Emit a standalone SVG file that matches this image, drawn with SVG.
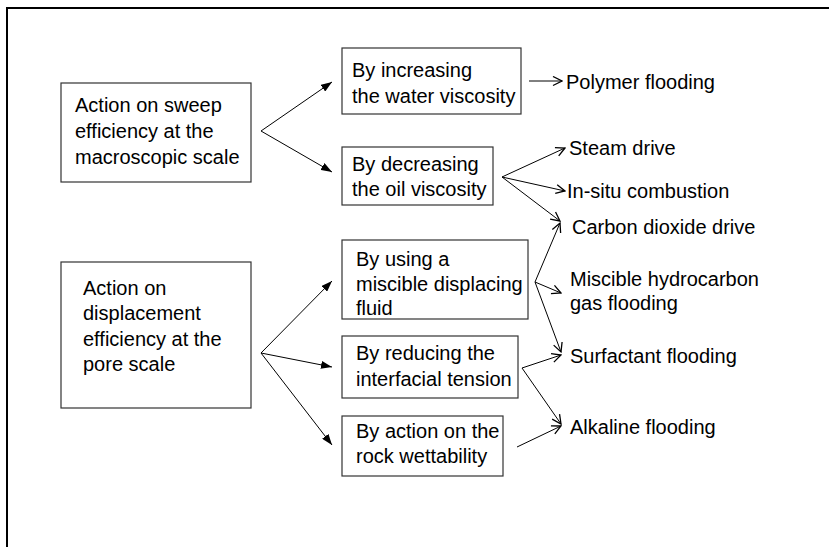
<svg xmlns="http://www.w3.org/2000/svg" width="829" height="547" viewBox="0 0 829 547">
<style>
.frame{fill:none;stroke:#000;stroke-width:2}
.box{fill:#fff;stroke:#333;stroke-width:1.2}
.t{font-family:"Liberation Sans",Arial,sans-serif;font-size:20px;fill:#000}
.c{fill:none;stroke:#000;stroke-width:1}
</style>
<defs>
<marker id="solid" markerUnits="userSpaceOnUse" viewBox="0 0 11 8" refX="11" refY="4" markerWidth="11" markerHeight="8" orient="auto">
<path d="M0,0 L11,4 L0,8 z" fill="#000"/>
</marker>
<marker id="open" markerUnits="userSpaceOnUse" viewBox="-1 -1 11 11" refX="9" refY="4.5" markerWidth="11" markerHeight="11" orient="auto">
<path d="M0,0 L9,4.5 L0,9" fill="none" stroke="#000" stroke-width="1.3"/>
</marker>
</defs>
<rect class="frame" x="7" y="8" width="900" height="600"/>

<g id="connectors">
<line class="c" x1="261" y1="131" x2="332" y2="82" marker-end="url(#solid)"/>
<line class="c" x1="261" y1="131" x2="332" y2="172" marker-end="url(#solid)"/>
<line class="c" x1="261" y1="353" x2="332" y2="281" marker-end="url(#solid)"/>
<line class="c" x1="261" y1="353" x2="332" y2="367" marker-end="url(#solid)"/>
<line class="c" x1="261" y1="353" x2="332" y2="445" marker-end="url(#solid)"/>
<line class="c" x1="529" y1="81" x2="562" y2="81" marker-end="url(#open)"/>
<line class="c" x1="502" y1="177" x2="565" y2="148" marker-end="url(#open)"/>
<line class="c" x1="502" y1="177" x2="565" y2="191" marker-end="url(#open)"/>
<line class="c" x1="502" y1="177" x2="560" y2="221" marker-end="url(#open)"/>
<line class="c" x1="535" y1="282" x2="560" y2="223" marker-end="url(#open)"/>
<line class="c" x1="535" y1="282" x2="561" y2="293" marker-end="url(#open)"/>
<line class="c" x1="535" y1="282" x2="561" y2="352" marker-end="url(#open)"/>
<line class="c" x1="522" y1="368" x2="561" y2="355" marker-end="url(#open)"/>
<line class="c" x1="522" y1="368" x2="561" y2="424" marker-end="url(#open)"/>
<line class="c" x1="517" y1="447" x2="561" y2="426" marker-end="url(#open)"/>
</g>

<g id="sweep">
<rect class="box" x="61" y="83" width="190" height="99"/>
<text class="t" x="75" y="112">Action on sweep</text>
<text class="t" x="75" y="138">efficiency at the</text>
<text class="t" x="75" y="164">macroscopic scale</text>
</g>
<g id="displacement">
<rect class="box" x="61" y="262" width="190" height="146"/>
<text class="t" x="83" y="295">Action on</text>
<text class="t" x="83" y="320">displacement</text>
<text class="t" x="83" y="346">efficiency at the</text>
<text class="t" x="83" y="371">pore scale</text>
</g>
<g id="water">
<rect class="box" x="342" y="48" width="179" height="66"/>
<text class="t" x="352" y="77">By increasing</text>
<text class="t" x="352" y="103">the water viscosity</text>
</g>
<g id="oil">
<rect class="box" x="342" y="147" width="151" height="58"/>
<text class="t" x="352" y="171">By decreasing</text>
<text class="t" x="352" y="196">the oil viscosity</text>
</g>
<g id="miscible">
<rect class="box" x="342" y="240" width="186" height="79"/>
<text class="t" x="356" y="266">By using a</text>
<text class="t" x="356" y="291">miscible displacing</text>
<text class="t" x="356" y="315">fluid</text>
</g>
<g id="ift">
<rect class="box" x="342" y="336" width="176" height="62"/>
<text class="t" x="356" y="360">By reducing the</text>
<text class="t" x="356" y="386">interfacial tension</text>
</g>
<g id="wettability">
<rect class="box" x="342" y="416" width="161" height="60"/>
<text class="t" x="356" y="438">By action on the</text>
<text class="t" x="356" y="463">rock wettability</text>
</g>
<g id="polymer"><text class="t" x="566" y="89">Polymer flooding</text></g>
<g id="steam"><text class="t" x="569" y="155">Steam drive</text></g>
<g id="insitu"><text class="t" x="567" y="198">In-situ combustion</text></g>
<g id="co2"><text class="t" x="572" y="234">Carbon dioxide drive</text></g>
<g id="hcgas">
<text class="t" x="570" y="286">Miscible hydrocarbon</text>
<text class="t" x="570" y="310">gas flooding</text>
</g>
<g id="surfactant"><text class="t" x="570" y="363">Surfactant flooding</text></g>
<g id="alkaline"><text class="t" x="570" y="434">Alkaline flooding</text></g>
</svg>
